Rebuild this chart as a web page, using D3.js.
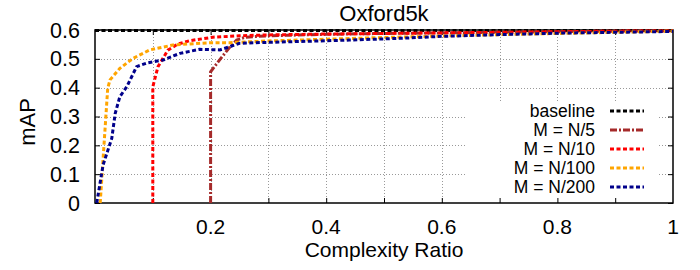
<!DOCTYPE html>
<html>
<head>
<meta charset="utf-8">
<script src="https://d3js.org/d3.v7.min.js"></script>
<style>
  body { margin: 0; background: #fff; }
  svg text { font-family: "Liberation Sans", Arial, sans-serif; fill: #000; }
</style>
</head>
<body>
<svg width="700" height="270"></svg>
<script>
// data
var seriesNames = ["baseline", "M = N/5", "M = N/10", "M = N/100", "M = N/200"];
var seriesColors = ["#000000", "#a52a2a", "#ff0000", "#ffa500", "#00008b"];

var baselineX = [0, 1];
var baselineY = [0.598, 0.598];

var n5X = [0.2, 0.2, 0.217, 0.233, 0.245, 0.26, 0.3, 0.4, 0.5, 0.6, 0.7, 0.8, 0.9, 1.0];
var n5Y = [0, 0.455, 0.50, 0.54, 0.565, 0.575, 0.58, 0.585, 0.588, 0.59, 0.592, 0.594, 0.596, 0.597];

var n10X = [0.1, 0.1, 0.109, 0.126, 0.143, 0.164, 0.204, 0.25, 0.3, 0.4, 0.5, 0.6, 0.7, 0.8, 0.9, 1.0];
var n10Y = [0, 0.403, 0.473, 0.53, 0.551, 0.563, 0.575, 0.58, 0.583, 0.586, 0.588, 0.59, 0.592, 0.594, 0.596, 0.597];

var n100X = [0.009, 0.022, 0.026, 0.043, 0.066, 0.095, 0.135, 0.199, 0.233, 0.3, 0.4, 0.5, 0.6, 0.7, 0.8, 0.9, 1.0];
var n100Y = [0, 0.398, 0.427, 0.467, 0.502, 0.531, 0.548, 0.556, 0.556, 0.562, 0.568, 0.574, 0.579, 0.584, 0.588, 0.592, 0.596];

var n200X = [0.003, 0.014, 0.029, 0.035, 0.043, 0.055, 0.072, 0.089, 0.118, 0.147, 0.181, 0.216, 0.233, 0.25, 0.297, 0.44, 0.527, 0.6, 0.7, 0.8, 0.9, 1.0];
var n200Y = [0, 0.132, 0.224, 0.311, 0.369, 0.403, 0.473, 0.485, 0.496, 0.519, 0.533, 0.531, 0.542, 0.554, 0.557, 0.565, 0.571, 0.578, 0.584, 0.589, 0.592, 0.595];

var xGridTicks = [0.1, 0.2, 0.3, 0.4, 0.5, 0.6, 0.7, 0.8, 0.9];
var xLabelTicks = [0.2, 0.4, 0.6, 0.8, 1];
var yTicks = [0, 0.1, 0.2, 0.3, 0.4, 0.5, 0.6];

var allX = [baselineX, n5X, n10X, n100X, n200X];
var allY = [baselineY, n5Y, n10Y, n100Y, n200Y];
var dashes = ["4,2.5", "7,2,2,2", "4,2.5", "4,2.5", "4,2.5"];

var svg = d3.select("svg"),
    plotLeft = 95, plotRight = 673, plotTop = 30, plotBottom = 203;

var x = d3.scaleLinear().domain([0, 1]).range([plotLeft, plotRight]);
var y = d3.scaleLinear().domain([0, 0.6]).range([plotBottom, plotTop]);

// grid
var grid = svg.append("g")
    .attr("stroke", "#999")
    .attr("stroke-width", 1)
    .attr("stroke-dasharray", "1,2");
grid.selectAll(".gx").data(xGridTicks).enter().append("line")
    .attr("x1", function(d) { return Math.round(x(d)) + 0.5; })
    .attr("x2", function(d) { return Math.round(x(d)) + 0.5; })
    .attr("y1", plotBottom).attr("y2", plotTop);
grid.selectAll(".gy").data(yTicks.slice(1, -1)).enter().append("line")
    .attr("y1", function(d) { return Math.round(y(d)) + 0.5; })
    .attr("y2", function(d) { return Math.round(y(d)) + 0.5; })
    .attr("x1", plotLeft).attr("x2", plotRight);

// legend box hides the grid
var keyLeft = 467, keyRight = 659, keyTop = 101;
svg.append("rect")
    .attr("x", keyLeft).attr("y", keyTop)
    .attr("width", keyRight - keyLeft).attr("height", plotBottom - keyTop)
    .attr("fill", "#fff");

// axes with inward ticks
var xAxis = svg.append("g").attr("transform", "translate(0," + plotBottom + ")")
    .call(d3.axisBottom(x).tickValues(xGridTicks).tickSize(-5).tickFormat(""));
var xAxisTop = svg.append("g").attr("transform", "translate(0," + plotTop + ")")
    .call(d3.axisTop(x).tickValues(xGridTicks).tickSize(-5).tickFormat(""));
var yAxis = svg.append("g").attr("transform", "translate(" + plotLeft + ",0)")
    .call(d3.axisLeft(y).tickValues(yTicks).tickSize(-5).tickFormat(""));
var yAxisRight = svg.append("g").attr("transform", "translate(" + plotRight + ",0)")
    .call(d3.axisRight(y).tickValues(yTicks).tickSize(-5).tickFormat(""));
[xAxis, xAxisTop, yAxis, yAxisRight].forEach(function(a) {
    a.select(".domain").remove();
    a.selectAll("line").attr("stroke", "#000").attr("stroke-width", 1);
});

// tick labels
svg.append("g").selectAll("text").data(xLabelTicks).enter().append("text")
    .attr("x", function(d) { return x(d); })
    .attr("y", 233.5)
    .attr("text-anchor", "middle")
    .attr("font-size", 21)
    .text(function(d) { return d3.format("")(d); });
svg.append("g").selectAll("text").data(yTicks).enter().append("text")
    .attr("x", 80)
    .attr("y", function(d) { return y(d); })
    .attr("dy", "0.35em")
    .attr("text-anchor", "end")
    .attr("font-size", 21.5)
    .text(function(d) { return d3.format("")(d); });

// frame
svg.append("rect")
    .attr("x", plotLeft).attr("y", plotTop)
    .attr("width", plotRight - plotLeft).attr("height", plotBottom - plotTop)
    .attr("fill", "none").attr("stroke", "#000").attr("stroke-width", 1.5);

// curves
var line = d3.line()
    .x(function(d) { return x(d[0]); })
    .y(function(d) { return y(d[1]); });

seriesNames.forEach(function(name, i) {
    var pts = d3.zip(allX[i], allY[i]);
    svg.append("path")
        .datum(pts)
        .attr("d", line)
        .attr("fill", "none")
        .attr("stroke", seriesColors[i])
        .attr("stroke-width", 3)
        .attr("stroke-dasharray", dashes[i]);
});

// legend
var key = svg.append("g");
seriesNames.forEach(function(name, i) {
    var ky = 111 + i * 19;
    key.append("text")
        .attr("x", 595).attr("y", ky)
        .attr("dy", "0.35em")
        .attr("text-anchor", "end")
        .attr("font-size", 17.5)
        .text(name);
    key.append("line")
        .attr("x1", 610).attr("x2", 644)
        .attr("y1", ky).attr("y2", ky)
        .attr("stroke", seriesColors[i])
        .attr("stroke-width", 3)
        .attr("stroke-dasharray", dashes[i]);
});

// titles
svg.append("text")
    .attr("x", 384).attr("y", 21)
    .attr("text-anchor", "middle")
    .attr("font-size", 22)
    .text("Oxford5k");
svg.append("text")
    .attr("x", 384).attr("y", 257)
    .attr("text-anchor", "middle")
    .attr("font-size", 21)
    .text("Complexity Ratio");
svg.append("text")
    .attr("transform", "translate(35,122) rotate(-90)")
    .attr("text-anchor", "middle")
    .attr("font-size", 22)
    .text("mAP");
</script>
</body>
</html>
